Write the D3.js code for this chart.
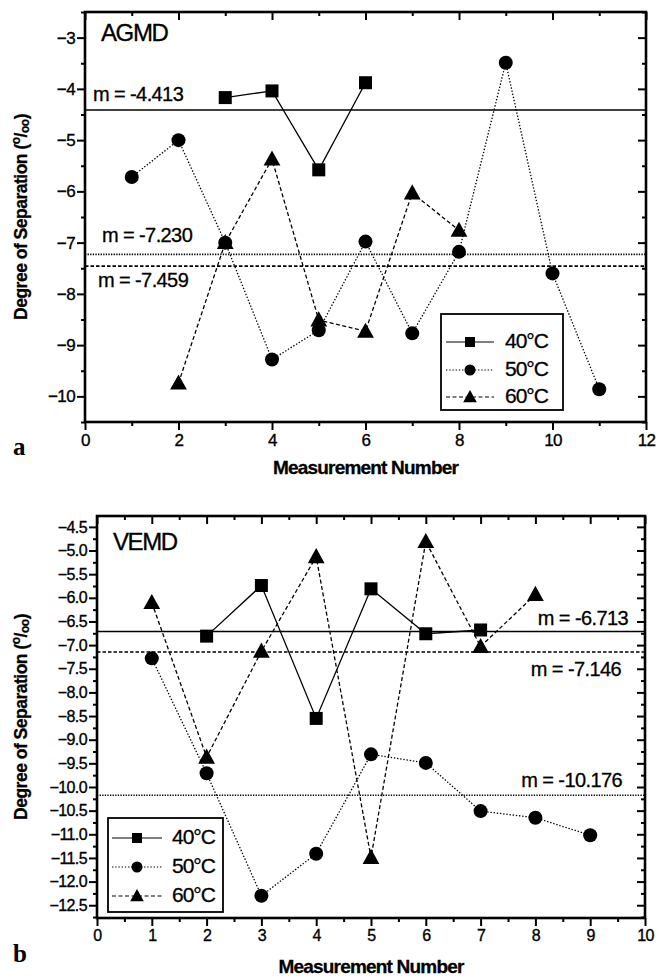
<!DOCTYPE html>
<html><head><meta charset="utf-8">
<script src="https://cdn.jsdelivr.net/npm/d3@7"></script>
<style>
html,body{margin:0;padding:0;background:#fff;}
svg{display:block;font-family:"Liberation Sans",Arial,sans-serif;}
</style></head>
<body>
<svg id="chart" width="669" height="979"></svg>
<script>
// ---------- DATA ----------
// Panel a (AGMD)
const seriesNames = ["40°C", "50°C", "60°C"];
const a40x = [3, 4, 5, 6];
const a40y = [-4.17, -4.04, -5.58, -3.88];
const a50x = [1, 2, 3, 4, 5, 6, 7, 8, 9, 10, 11];
const a50y = [-5.72, -5.00, -7.00, -9.28, -8.71, -6.98, -8.77, -7.18, -3.49, -7.60, -9.86];
const a60x = [2, 3, 4, 5, 6, 7, 8];
const a60y = [-9.74, -7.00, -5.37, -8.51, -8.73, -6.03, -6.76];
const aMeans = [-4.413, -7.230, -7.459];
const aMeanLabels = ["m = -4.413", "m = -7.230", "m = -7.459"];
const aYTicks = [-3, -4, -5, -6, -7, -8, -9, -10];
const aXTicks = [0, 2, 4, 6, 8, 10, 12];

// Panel b (VEMD)
const b40x = [2, 3, 4, 5, 6, 7];
const b40y = [-6.81, -5.74, -8.55, -5.81, -6.76, -6.68];
const b50x = [1, 2, 3, 4, 5, 6, 7, 8, 9];
const b50y = [-7.28, -9.71, -12.30, -11.41, -9.31, -9.49, -10.51, -10.65, -11.02];
const b60x = [1, 2, 3, 4, 5, 6, 7, 8];
const b60y = [-6.10, -9.37, -7.13, -5.13, -11.49, -4.81, -7.03, -5.93];
const bMeans = [-6.713, -7.146, -10.176];
const bMeanLabels = ["m = -6.713", "m = -7.146", "m = -10.176"];
const bYTicks = [-4.5, -5.0, -5.5, -6.0, -6.5, -7.0, -7.5, -8.0, -8.5, -9.0, -9.5, -10.0, -10.5, -11.0, -11.5, -12.0, -12.5];
const bXTicks = [0, 1, 2, 3, 4, 5, 6, 7, 8, 9, 10];

// ---------- STYLES ----------
const dashFor = {solid: null, dotted: "1.4,1.8", dashed: "4,2.5"};
const seriesStyle = [
  {dash: "solid", marker: "square"},
  {dash: "dotted", marker: "circle"},
  {dash: "dashed", marker: "triangle"}
];

const svg = d3.select("#chart");
svg.append("rect").attr("width", 669).attr("height", 979).attr("fill", "#fff");

function marker(g, type, cx, cy, s) {
  if (type === "square") {
    g.append("rect").attr("x", cx - s / 2).attr("y", cy - s / 2).attr("width", s).attr("height", s).attr("fill", "#000");
  } else if (type === "circle") {
    g.append("circle").attr("cx", cx).attr("cy", cy).attr("r", s / 2).attr("fill", "#000");
  } else {
    const h = s * 0.9;
    g.append("path").attr("d", `M${cx},${cy - h * 0.6}L${cx + s / 2 * 1.05},${cy + h * 0.45}L${cx - s / 2 * 1.05},${cy + h * 0.45}Z`).attr("fill", "#000");
  }
}

function heavy(sel, w) {
  return sel.attr("stroke", "#000").attr("stroke-width", w).attr("paint-order", "stroke");
}

function panel(cfg) {
  const g = svg.append("g");
  const x = d3.scaleLinear().domain(cfg.xDomain).range([cfg.left, cfg.right]);
  const y = d3.scaleLinear().domain(cfg.yDomain).range([cfg.bottom, cfg.top]);

  // mean lines
  cfg.means.forEach((m, i) => {
    g.append("line").attr("x1", cfg.left).attr("x2", cfg.right)
      .attr("y1", y(m)).attr("y2", y(m))
      .attr("stroke", "#000").attr("stroke-width", 1.6)
      .attr("stroke-dasharray", cfg.meanDash[i] === "dotted" ? "1.3,1.3" : (cfg.meanDash[i] === "dashed" ? "3.5,2" : null));
  });

  // series
  cfg.series.forEach((s, i) => {
    const pts = s.x.map((xv, j) => [x(xv), y(s.y[j])]);
    g.append("path").attr("d", d3.line()(pts)).attr("fill", "none")
      .attr("stroke", "#000").attr("stroke-width", 1.3)
      .attr("stroke-dasharray", dashFor[seriesStyle[i].dash]);
  });
  cfg.series.forEach((s, i) => {
    s.x.forEach((xv, j) => marker(g, seriesStyle[i].marker, x(xv), y(s.y[j]), cfg.markerSize[i]));
  });

  // axes
  const tickW = 2;
  const ax = [
    {axis: d3.axisBottom(x).tickValues(cfg.xTicks).tickSize(8).tickFormat(cfg.xFmt), t: `translate(0,${cfg.bottom})`, lab: true},
    {axis: d3.axisBottom(x).tickValues(cfg.xMinor).tickSize(4).tickFormat(""), t: `translate(0,${cfg.bottom})`},
    {axis: d3.axisTop(x).tickValues(cfg.xTicks).tickSize(-8).tickFormat(""), t: `translate(0,${cfg.top})`},
    {axis: d3.axisTop(x).tickValues(cfg.xMinor).tickSize(-4).tickFormat(""), t: `translate(0,${cfg.top})`},
    {axis: d3.axisLeft(y).tickValues(cfg.yTicks).tickSize(8).tickFormat(cfg.yFmt), t: `translate(${cfg.left},0)`, lab: true, left: true},
    {axis: d3.axisLeft(y).tickValues(cfg.yMinor).tickSize(4).tickFormat(""), t: `translate(${cfg.left},0)`},
    {axis: d3.axisRight(y).tickValues(cfg.yTicks).tickSize(-8).tickFormat(""), t: `translate(${cfg.right},0)`},
    {axis: d3.axisRight(y).tickValues(cfg.yMinor).tickSize(-4).tickFormat(""), t: `translate(${cfg.right},0)`}
  ];
  ax.forEach(a => {
    const ag = g.append("g").attr("transform", a.t).call(a.axis.tickSizeOuter(0));
    ag.select(".domain").remove();
    ag.selectAll("line").attr("stroke", "#000").attr("stroke-width", tickW);
    const tx = ag.selectAll("text").attr("font-size", cfg.tickFont).attr("fill", "#000")
      .attr("font-family", "'Liberation Sans',Arial,sans-serif").attr("letter-spacing", -0.6);
    heavy(tx, 0.35);
    if (a.lab && a.left) tx.attr("x", -10);
    if (a.lab && !a.left) tx.attr("y", 12);
  });
  // frame
  g.append("rect").attr("x", cfg.left).attr("y", cfg.top)
    .attr("width", cfg.right - cfg.left).attr("height", cfg.bottom - cfg.top)
    .attr("fill", "none").attr("stroke", "#000").attr("stroke-width", 2.6);

  // mean labels
  cfg.meanLabels.forEach((t, i) => {
    heavy(g.append("text").attr("x", cfg.meanLabelPos[i][0]).attr("y", cfg.meanLabelPos[i][1])
      .attr("text-anchor", cfg.meanAnchor).attr("dominant-baseline", "middle")
      .attr("font-size", 20).attr("letter-spacing", -0.6).text(t), 0.3);
  });
  // panel title
  heavy(g.append("text").attr("x", cfg.titlePos[0]).attr("y", cfg.titlePos[1])
    .attr("dominant-baseline", "middle").attr("font-size", 24).attr("letter-spacing", -1.4).text(cfg.title), 0.3);

  // legend
  const L = cfg.legend;
  g.append("rect").attr("x", L.x).attr("y", L.y).attr("width", L.w).attr("height", L.h)
    .attr("fill", "#fff").attr("stroke", "#000").attr("stroke-width", 1.8);
  seriesNames.forEach((n, i) => {
    const yy = L.rows[i];
    g.append("line").attr("x1", L.lineX[0]).attr("x2", L.lineX[1]).attr("y1", yy).attr("y2", yy)
      .attr("stroke", "#000").attr("stroke-width", 1.2)
      .attr("stroke-dasharray", dashFor[seriesStyle[i].dash]);
    marker(g, seriesStyle[i].marker, (L.lineX[0] + L.lineX[1]) / 2, yy, L.ms[i]);
    heavy(g.append("text").attr("x", L.textX).attr("y", yy).attr("dominant-baseline", "middle")
      .attr("font-size", 21).attr("letter-spacing", -1).text(n), 0.3);
  });

  // axis titles
  heavy(g.append("text").attr("x", (cfg.left + cfg.right) / 2).attr("y", cfg.xTitleY)
    .attr("text-anchor", "middle").attr("dominant-baseline", "middle")
    .attr("font-weight", "bold").attr("font-size", 19).attr("letter-spacing", -0.8).text("Measurement Number"), 0.3);
  const yt = g.append("text").attr("transform", `translate(${cfg.yTitleX},${(cfg.top + cfg.bottom) / 2}) rotate(-90)`)
    .attr("text-anchor", "middle").attr("dominant-baseline", "middle")
    .attr("font-weight", "bold").attr("font-size", 17.5).attr("letter-spacing", -0.5);
  heavy(yt, 0.3);
  yt.append("tspan").text("Degree of Separation (");
  yt.append("tspan").attr("font-size", 12).attr("dy", -5).text("o");
  yt.append("tspan").attr("dy", 5).text("/");
  yt.append("tspan").attr("font-size", 12).attr("dy", 4).text("oo");
  yt.append("tspan").attr("dy", -4).text(")");

  // panel letter
  g.append("text").attr("x", cfg.letterPos[0]).attr("y", cfg.letterPos[1])
    .attr("font-family", "'Liberation Serif','Times New Roman',serif")
    .attr("font-weight", "bold").attr("font-size", 25).text(cfg.letter);
}

panel({
  left: 85, right: 646, top: 12, bottom: 422,
  xDomain: [0, 12], yDomain: [-10.5, -2.5],
  xTicks: aXTicks, xMinor: d3.range(1, 12, 2),
  yTicks: aYTicks, yMinor: d3.range(-10.5, -2.4, 1),
  xFmt: d3.format("d"), yFmt: d3.format("d"),
  tickFont: 17,
  series: [{x: a40x, y: a40y}, {x: a50x, y: a50y}, {x: a60x, y: a60y}],
  markerSize: [13, 14, 16],
  means: aMeans, meanDash: ["solid", "dotted", "dashed"],
  meanLabels: aMeanLabels, meanAnchor: "start",
  meanLabelPos: [[93, 96], [102, 237], [98, 282]],
  title: "AGMD", titlePos: [101, 35],
  legend: {x: 441, y: 314, w: 122, h: 96, rows: [342, 370, 397], lineX: [446, 494], textX: 505, ms: [10, 11, 13]},
  xTitleY: 469, yTitleX: 22,
  letter: "a", letterPos: [13, 455]
});

panel({
  left: 97, right: 645, top: 516, bottom: 918,
  xDomain: [0, 10], yDomain: [-12.77, -4.27],
  xTicks: bXTicks, xMinor: d3.range(0.5, 10, 1),
  yTicks: bYTicks, yMinor: d3.range(-12.75, -4.26, 0.5),
  xFmt: d3.format("d"), yFmt: d3.format(".1f"),
  tickFont: 16,
  series: [{x: b40x, y: b40y}, {x: b50x, y: b50y}, {x: b60x, y: b60y}],
  markerSize: [13, 14, 16],
  means: bMeans, meanDash: ["solid", "dashed", "dotted"],
  meanLabels: bMeanLabels, meanAnchor: "end",
  meanLabelPos: [[628, 620], [621, 671], [622, 782]],
  title: "VEMD", titlePos: [113, 544],
  legend: {x: 108, y: 818, w: 115, h: 94, rows: [838, 867, 896], lineX: [112, 162], textX: 172, ms: [10, 11, 13]},
  xTitleY: 968, yTitleX: 22,
  letter: "b", letterPos: [13, 962]
});
</script>
</body></html>
